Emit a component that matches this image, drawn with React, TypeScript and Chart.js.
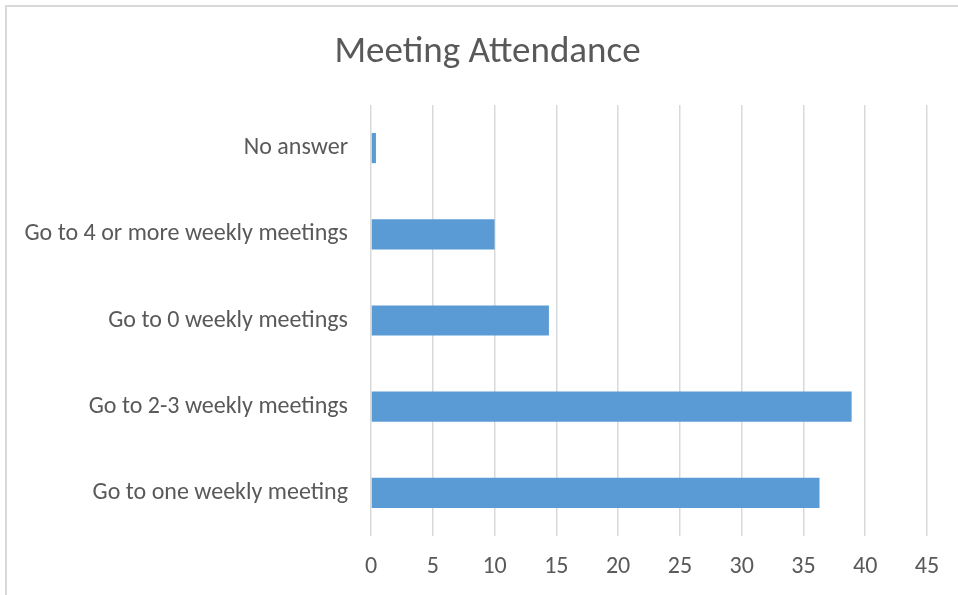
import React, { useEffect, useRef } from "react";
import { Chart, registerables } from "chart.js";

Chart.register(...registerables);

const categories = [
  "No answer",
  "Go to 4 or more weekly meetings",
  "Go to 0 weekly meetings",
  "Go to 2-3 weekly meetings",
  "Go to one weekly meeting",
];
const values = [0.4, 10, 14.4, 38.9, 36.3];
const xTickMin = 0;
const xTickMax = 45;
const xTickStep = 5;
const titleText = "Meeting Attendance";

const FONT = "Carlito, Lato, 'Open Sans', sans-serif";
const TEXT = "#595959";

export default function App() {
  const ref = useRef<HTMLCanvasElement | null>(null);
  useEffect(() => {
    if (!ref.current) return;
    const chart = new Chart(ref.current, {
      type: "bar",
      data: {
        labels: categories,
        datasets: [
          {
            data: values,
            backgroundColor: "#5B9BD5",
            borderWidth: 0,
            barPercentage: 0.35,
            categoryPercentage: 1,
          },
        ],
      },
      options: {
        indexAxis: "y",
        responsive: false,
        animation: false,
        layout: { padding: { left: 0, right: 31, top: 105, bottom: 0 } },
        plugins: {
          legend: { display: false },
          tooltip: { enabled: false },
          title: { display: false },
        },
        scales: {
          x: {
            min: xTickMin,
            max: xTickMax,
            ticks: {
              stepSize: xTickStep,
              color: TEXT,
              font: { family: FONT, size: 24 },
              padding: 17,
            },
            grid: { color: "#d9d9d9", lineWidth: 1.5, drawTicks: false },
            border: { display: false },
            afterFit: (s: any) => {
              s.height = 59;
            },
          },
          y: {
            ticks: {
              color: TEXT,
              font: { family: FONT, size: 24 },
              padding: 23,
            },
            grid: { display: false, drawTicks: false },
            border: { display: false },
            afterFit: (s: any) => {
              s.width = 371;
            },
          },
        },
      },
    });
    return () => chart.destroy();
  }, []);
  return (
    <div
      style={{
        position: "absolute",
        left: 0,
        top: 0,
        width: 958,
        height: 595,
        overflow: "hidden",
        background: "#fff",
      }}
    >
      <div
        style={{
          position: "absolute",
          left: 5,
          top: 5,
          width: 1200,
          height: 1200,
          borderLeft: "2px solid #d9d9d9",
          borderTop: "2px solid #d9d9d9",
        }}
      />
      <canvas
        ref={ref}
        width={958}
        height={595}
        style={{ position: "absolute", left: 0, top: 0, width: 958, height: 595 }}
      />
      <div
        style={{
          position: "absolute",
          left: 0,
          top: 28,
          width: 975,
          textAlign: "center",
          fontFamily: FONT,
          fontSize: 37,
          lineHeight: "44px",
          color: TEXT,
          whiteSpace: "nowrap",
        }}
      >
        {titleText}
      </div>
    </div>
  );
}
